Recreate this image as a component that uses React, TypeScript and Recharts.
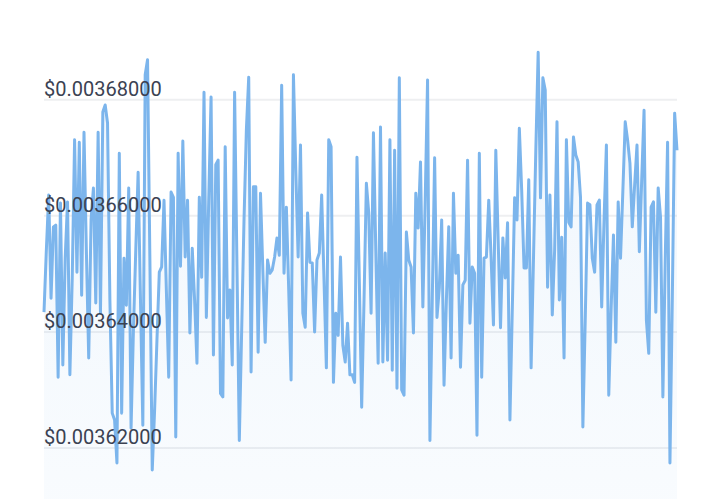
import { AreaChart, Area, XAxis, YAxis, CartesianGrid } from "recharts";

// price in USD, one value per sample
const prices: number[] = [
  0.0036434, 0.0036541, 0.0036636, 0.0036458, 0.0036581, 0.0036584, 0.0036322, 0.0036622, 0.0036343, 0.0036527,
  0.0036624, 0.0036326, 0.0036493, 0.0036731, 0.0036503, 0.0036727, 0.0036463, 0.0036744, 0.0036541, 0.0036355,
  0.0036593, 0.0036648, 0.0036450, 0.0036744, 0.0036432, 0.0036779, 0.0036791, 0.0036760, 0.0036455, 0.0036260,
  0.0036248, 0.0036174, 0.0036708, 0.0036260, 0.0036527, 0.0036446, 0.0036648, 0.0036234, 0.0036403, 0.0036541,
  0.0036675, 0.0036455, 0.0036239, 0.0036843, 0.0036869, 0.0036524, 0.0036162, 0.0036265, 0.0036386, 0.0036503,
  0.0036512, 0.0036627, 0.0036472, 0.0036322, 0.0036641, 0.0036632, 0.0036219, 0.0036708, 0.0036513, 0.0036729,
  0.0036529, 0.0036627, 0.0036398, 0.0036544, 0.0036455, 0.0036346, 0.0036632, 0.0036494, 0.0036813, 0.0036425,
  0.0036627, 0.0036805, 0.0036360, 0.0036688, 0.0036696, 0.0036294, 0.0036288, 0.0036719, 0.0036424, 0.0036472,
  0.0036343, 0.0036813, 0.0036515, 0.0036213, 0.0036403, 0.0036593, 0.0036748, 0.0036839, 0.0036331, 0.0036650,
  0.0036650, 0.0036365, 0.0036639, 0.0036507, 0.0036382, 0.0036524, 0.0036501, 0.0036507, 0.0036529, 0.0036562,
  0.0036532, 0.0036825, 0.0036501, 0.0036615, 0.0036472, 0.0036317, 0.0036843, 0.0036679, 0.0036529, 0.0036722,
  0.0036432, 0.0036408, 0.0036605, 0.0036520, 0.0036519, 0.0036400, 0.0036524, 0.0036536, 0.0036636, 0.0036489,
  0.0036338, 0.0036731, 0.0036719, 0.0036313, 0.0036432, 0.0036394, 0.0036529, 0.0036377, 0.0036348, 0.0036415,
  0.0036326, 0.0036326, 0.0036313, 0.0036701, 0.0036489, 0.0036270, 0.0036455, 0.0036656, 0.0036605, 0.0036432,
  0.0036743, 0.0036541, 0.0036346, 0.0036753, 0.0036348, 0.0036536, 0.0036351, 0.0036731, 0.0036334, 0.0036713,
  0.0036303, 0.0036838, 0.0036300, 0.0036291, 0.0036572, 0.0036524, 0.0036512, 0.0036398, 0.0036639, 0.0036579,
  0.0036693, 0.0036443, 0.0036627, 0.0036834, 0.0036213, 0.0036455, 0.0036700, 0.0036425, 0.0036476, 0.0036593,
  0.0036308, 0.0036455, 0.0036581, 0.0036355, 0.0036639, 0.0036501, 0.0036532, 0.0036339, 0.0036481, 0.0036489,
  0.0036696, 0.0036415, 0.0036512, 0.0036501, 0.0036222, 0.0036708, 0.0036322, 0.0036527, 0.0036529, 0.0036627,
  0.0036529, 0.0036412, 0.0036713, 0.0036558, 0.0036407, 0.0036562, 0.0036493, 0.0036588, 0.0036248, 0.0036438,
  0.0036631, 0.0036593, 0.0036751, 0.0036644, 0.0036510, 0.0036510, 0.0036662, 0.0036338, 0.0036524, 0.0036713,
  0.0036882, 0.0036631, 0.0036838, 0.0036817, 0.0036477, 0.0036636, 0.0036429, 0.0036541, 0.0036762, 0.0036455,
  0.0036563, 0.0036355, 0.0036731, 0.0036589, 0.0036581, 0.0036736, 0.0036705, 0.0036693, 0.0036632, 0.0036236,
  0.0036420, 0.0036622, 0.0036619, 0.0036527, 0.0036503, 0.0036619, 0.0036627, 0.0036443, 0.0036593, 0.0036722,
  0.0036291, 0.0036438, 0.0036567, 0.0036382, 0.0036624, 0.0036527, 0.0036644, 0.0036762, 0.0036731, 0.0036691,
  0.0036581, 0.0036653, 0.0036722, 0.0036538, 0.0036662, 0.0036782, 0.0036420, 0.0036363, 0.0036615, 0.0036624,
  0.0036434, 0.0036648, 0.0036598, 0.0036288, 0.0036524, 0.0036727, 0.0036174, 0.0036455, 0.0036777, 0.0036713,
];

const yTicks = [0.00362, 0.00364, 0.00366, 0.00368];
const yDomain: [number, number] = [0.0036112, 0.0036972];

const data = prices.map((price, i) => ({ i, price }));

const PriceTick = ({ y, payload }: any) => (
  <text
    x={44}
    y={y - 4}
    fill="#3b4252"
    fontSize={20}
    fontFamily="Roboto, sans-serif"
    textAnchor="start"
  >
    {`$${payload.value.toFixed(8)}`}
  </text>
);

export default function App() {
  return (
    <div style={{ position: "absolute", left: 0, top: 0, background: "#fff" }}>
      <AreaChart
        width={720}
        height={499}
        data={data}
        margin={{ top: 0, right: 43, bottom: 0, left: 44 }}
      >
        <defs>
          <linearGradient id="priceFill" x1="0" y1="0" x2="0" y2="1">
            <stop offset="0%" stopColor="#7cb5ec" stopOpacity={0.12} />
            <stop offset="100%" stopColor="#7cb5ec" stopOpacity={0.05} />
          </linearGradient>
        </defs>
        <CartesianGrid
          vertical={false}
          horizontalValues={yTicks}
          stroke="#eeeff1"
          strokeWidth={2}
        />
        <XAxis dataKey="i" hide />
        <YAxis
          domain={yDomain}
          ticks={yTicks}
          width={60}
          mirror
          axisLine={false}
          tickLine={false}
          tick={<PriceTick />}
          allowDataOverflow
        />
        <Area
          type="linear"
          dataKey="price"
          stroke="#7cb5ec"
          strokeWidth={3}
          strokeLinejoin="round"
          fill="url(#priceFill)"
          fillOpacity={1}
          isAnimationActive={false}
          dot={false}
          activeDot={false}
        />
      </AreaChart>
    </div>
  );
}
